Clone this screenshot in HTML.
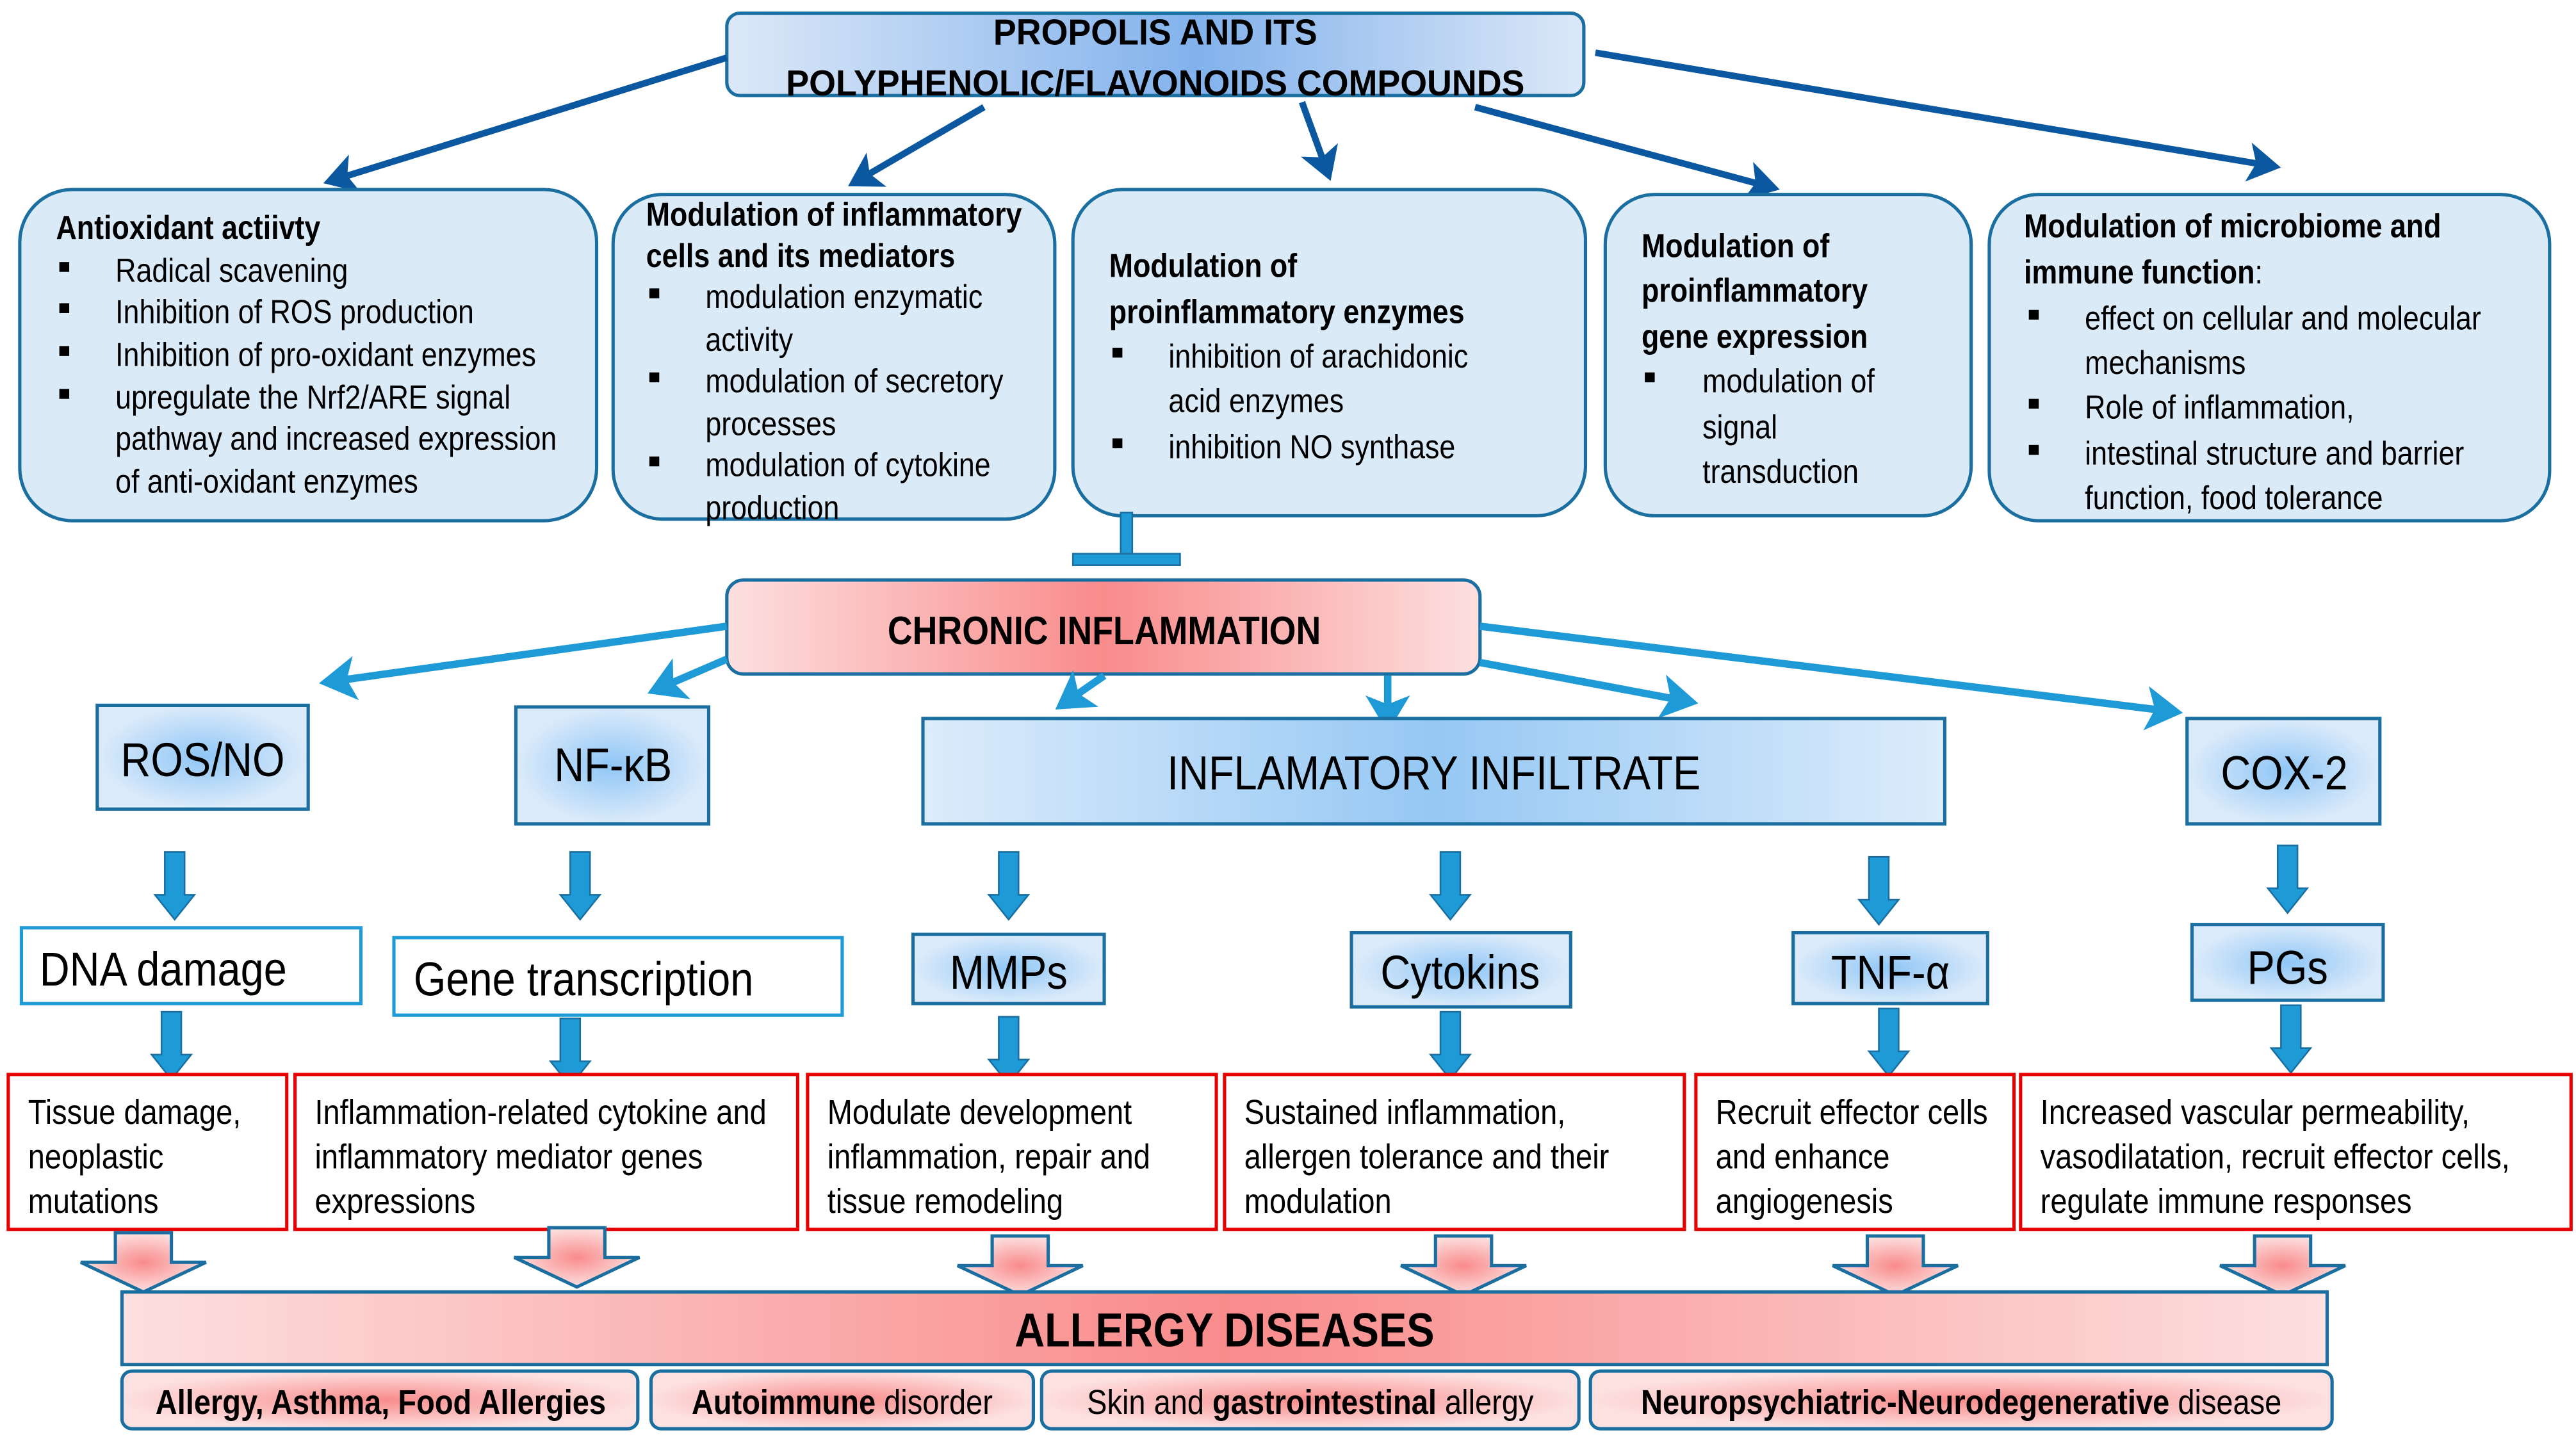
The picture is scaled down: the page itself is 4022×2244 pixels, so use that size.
<!DOCTYPE html>
<html><head><meta charset="utf-8"><style>
html,body{margin:0;padding:0;background:#fff}
svg{display:block}
text{font-family:"Liberation Sans Narrow","Liberation Sans",sans-serif;fill:#000;transform-box:fill-box;transform-origin:0 50%;transform:scaleX(.87)}
text.m{transform-origin:50% 50%}
text.t{transform:scaleX(.95)}
.b{font-weight:bold}
</style></head><body>
<svg width="4022" height="2244" viewBox="0 0 1563 872" preserveAspectRatio="none" xmlns="http://www.w3.org/2000/svg">
<defs>
<linearGradient id="gTop" x1="0" x2="1"><stop offset="0" stop-color="#dce8f8"/><stop offset="0.55" stop-color="#82b2ec"/><stop offset="1" stop-color="#dce8f8"/></linearGradient>
<linearGradient id="gRed" x1="0" x2="1"><stop offset="0" stop-color="#fde0e0"/><stop offset="0.5" stop-color="#f98b8b"/><stop offset="1" stop-color="#fde0e0"/></linearGradient>
<linearGradient id="gInf" x1="0" x2="1"><stop offset="0" stop-color="#dcecfb"/><stop offset="0.5" stop-color="#96c8f4"/><stop offset="1" stop-color="#dcecfb"/></linearGradient>
<radialGradient id="rBlue"><stop offset="0" stop-color="#8fc6f6"/><stop offset="1" stop-color="#dcebfa"/></radialGradient>
<radialGradient id="rPink"><stop offset="0" stop-color="#f98b8b"/><stop offset="1" stop-color="#fde0e0"/></radialGradient>
<marker id="mD" markerWidth="6" markerHeight="6" refX="4" refY="3" orient="auto" markerUnits="strokeWidth"><path d="M0,0 L5,3 L0,6 L1.2,3z" fill="#0b58a0"/></marker>
<marker id="mL" markerWidth="6" markerHeight="6" refX="4" refY="3" orient="auto" markerUnits="strokeWidth"><path d="M0,0 L5,3 L0,6 L1.2,3z" fill="#1e9ad6"/></marker>
<g id="ba"><path d="M-6,0 H6 V26 H12 L0,41 L-12,26 H-6 Z" fill="#1e9ad6" stroke="#1a6fa0" stroke-width="1"/></g>
<g id="pa"><path d="M-17,0 H17 V18 H38 L0,36 L-38,18 H-17 Z" fill="url(#rPink)" stroke="#1a6fa0" stroke-width="2"/></g>
</defs>

<rect x="441" y="8" width="520" height="50" rx="8" fill="url(#gTop)" stroke="#1a6fa0" stroke-width="2"/>
<text class="b m t" x="701" y="27" font-size="22" text-anchor="middle">PROPOLIS AND ITS</text>
<text class="b m t" x="701" y="58" font-size="22" text-anchor="middle">POLYPHENOLIC/FLAVONOIDS COMPOUNDS</text>

<g stroke="#0b58a0" stroke-width="4" fill="none" marker-end="url(#mD)">
<line x1="441" y1="35" x2="200" y2="110"/>
<line x1="597" y1="65" x2="518" y2="111"/>
<line x1="790" y1="62" x2="806" y2="106"/>
<line x1="895" y1="65" x2="1076" y2="114"/>
<line x1="968" y1="32" x2="1380" y2="101"/>
</g>

<g fill="#dbeaf7" stroke="#1a6fa0" stroke-width="2">
<rect x="12" y="115" width="350" height="201" rx="32"/>
<rect x="372" y="118" width="268" height="197" rx="30"/>
<rect x="651" y="115" width="311" height="198" rx="30"/>
<rect x="974" y="118" width="222" height="195" rx="30"/>
<rect x="1207" y="118" width="340" height="198" rx="30"/>
</g>
<g font-size="20">
<text class="b" x="34" y="145">Antioxidant actiivty</text>
<text x="70" y="171">Radical scavening</text>
<text x="70" y="196">Inhibition of ROS production</text>
<text x="70" y="222">Inhibition of pro-oxidant enzymes</text>
<text x="70" y="248">upregulate the Nrf2/ARE signal</text>
<text x="70" y="273">pathway and  increased expression</text>
<text x="70" y="299">of anti-oxidant enzymes</text>

<text class="b" x="392" y="137">Modulation of inflammatory</text>
<text class="b" x="392" y="162">cells and its mediators</text>
<text x="428" y="187">modulation enzymatic</text>
<text x="428" y="213">activity</text>
<text x="428" y="238">modulation of secretory</text>
<text x="428" y="264">processes</text>
<text x="428" y="289">modulation of cytokine</text>
<text x="428" y="315">production</text>

<text class="b" x="673" y="168">Modulation  of</text>
<text class="b" x="673" y="196">proinflammatory enzymes</text>
<text x="709" y="223">inhibition of arachidonic</text>
<text x="709" y="250">acid enzymes</text>
<text x="709" y="278">inhibition NO synthase</text>

<text class="b" x="996" y="156">Modulation of</text>
<text class="b" x="996" y="183">proinflammatory</text>
<text class="b" x="996" y="211">gene expression</text>
<text x="1033" y="238">modulation of</text>
<text x="1033" y="266">signal</text>
<text x="1033" y="293">transduction</text>

<text class="b" x="1228" y="144">Modulation of microbiome and</text>
<text x="1228" y="172"><tspan class="b">immune function</tspan>:</text>
<text x="1265" y="200">effect on cellular  and molecular</text>
<text x="1265" y="227">mechanisms</text>
<text x="1265" y="254">Role of inflammation,</text>
<text x="1265" y="282">intestinal structure and barrier</text>
<text x="1265" y="309">function, food tolerance</text>
</g>
<g fill="#000">
<rect x="36" y="159" width="6" height="6"/><rect x="36" y="184" width="6" height="6"/><rect x="36" y="210" width="6" height="6"/><rect x="36" y="236" width="6" height="6"/>
<rect x="394" y="175" width="6" height="6"/><rect x="394" y="226" width="6" height="6"/><rect x="394" y="277" width="6" height="6"/>
<rect x="675" y="211" width="6" height="6"/><rect x="675" y="266" width="6" height="6"/>
<rect x="998" y="226" width="6" height="6"/>
<rect x="1231" y="188" width="6" height="6"/><rect x="1231" y="242" width="6" height="6"/><rect x="1231" y="270" width="6" height="6"/>
</g>

<rect x="680" y="311" width="7" height="30" fill="#1e9ad6" stroke="#1a6fa0" stroke-width="1"/>
<rect x="651" y="336" width="65" height="7" fill="#1e9ad6" stroke="#1a6fa0" stroke-width="1"/>

<rect x="441" y="352" width="457" height="57" rx="10" fill="url(#gRed)" stroke="#1a6fa0" stroke-width="2"/>
<text class="b m" x="670" y="391" font-size="24" text-anchor="middle">CHRONIC INFLAMMATION</text>

<g stroke="#1e9ad6" stroke-width="4.5" fill="none" marker-end="url(#mL)">
<line x1="441" y1="380" x2="198" y2="414"/>
<line x1="441" y1="400" x2="397" y2="419"/>
<line x1="670" y1="410" x2="644" y2="428"/>
<line x1="842" y1="410" x2="842" y2="440"/>
<line x1="898" y1="402" x2="1026" y2="426"/>
<line x1="898" y1="380" x2="1320" y2="432"/>
</g>

<g stroke="#1a6fa0" stroke-width="2">
<rect x="59" y="428" width="128" height="63" fill="url(#rBlue)"/>
<rect x="313" y="429" width="117" height="71" fill="url(#rBlue)"/>
<rect x="560" y="436" width="620" height="64" fill="url(#gInf)"/>
<rect x="1327" y="436" width="117" height="64" fill="url(#rBlue)"/>
</g>
<g font-size="29" text-anchor="middle">
<text class="m" x="123" y="471">ROS/NO</text>
<text class="m" x="372" y="474">NF-κB</text>
<text class="m" x="870" y="479">INFLAMATORY INFILTRATE</text>
<text class="m" x="1386" y="479">COX-2</text>
</g>

<use href="#ba" x="106" y="517"/><use href="#ba" x="352" y="517"/><use href="#ba" x="612" y="517"/>
<use href="#ba" x="880" y="517"/><use href="#ba" x="1140" y="520"/><use href="#ba" x="1388" y="513"/>
<use href="#ba" x="104" y="614"/><use href="#ba" x="346" y="618"/><use href="#ba" x="612" y="617"/>
<use href="#ba" x="880" y="614"/><use href="#ba" x="1146" y="612"/><use href="#ba" x="1390" y="610"/>

<rect x="13" y="563" width="206" height="46" fill="#fff" stroke="#1e9ad6" stroke-width="2"/>
<rect x="239" y="569" width="272" height="47" fill="#fff" stroke="#1e9ad6" stroke-width="2"/>
<g stroke="#1a6fa0" stroke-width="2" fill="url(#rBlue)">
<rect x="554" y="567" width="116" height="42"/>
<rect x="820" y="566" width="133" height="45"/>
<rect x="1088" y="566" width="118" height="43"/>
<rect x="1330" y="561" width="116" height="46"/>
</g>
<g font-size="29">
<text x="24" y="598">DNA damage</text>
<text x="251" y="604">Gene transcription</text>
<text class="m" x="612" y="600" text-anchor="middle">MMPs</text>
<text class="m" x="886" y="600" text-anchor="middle">Cytokins</text>
<text class="m" x="1147" y="600" text-anchor="middle">TNF-α</text>
<text class="m" x="1388" y="597" text-anchor="middle">PGs</text>
</g>

<g fill="#fff" stroke="#e60000" stroke-width="2">
<rect x="5" y="652" width="169" height="94"/>
<rect x="179" y="652" width="305" height="94"/>
<rect x="490" y="652" width="248" height="94"/>
<rect x="743" y="652" width="279" height="94"/>
<rect x="1029" y="652" width="193" height="94"/>
<rect x="1226" y="652" width="334" height="94"/>
</g>
<g font-size="21">
<text x="17" y="682">Tissue damage,</text><text x="17" y="709">neoplastic</text><text x="17" y="736">mutations</text>
<text x="191" y="682">Inflammation-related  cytokine and</text><text x="191" y="709">inflammatory  mediator genes</text><text x="191" y="736">expressions</text>
<text x="502" y="682">Modulate development</text><text x="502" y="709">inflammation, repair and</text><text x="502" y="736">tissue remodeling</text>
<text x="755" y="682">Sustained inflammation,</text><text x="755" y="709">allergen tolerance and their</text><text x="755" y="736">modulation</text>
<text x="1041" y="682">Recruit effector cells</text><text x="1041" y="709">and enhance</text><text x="1041" y="736">angiogenesis</text>
<text x="1238" y="682">Increased vascular permeability,</text><text x="1238" y="709">vasodilatation, recruit effector cells,</text><text x="1238" y="736">regulate immune responses</text>
</g>

<use href="#pa" x="87" y="748"/><use href="#pa" x="350" y="745"/><use href="#pa" x="619" y="750"/>
<use href="#pa" x="888" y="750"/><use href="#pa" x="1150" y="750"/><use href="#pa" x="1385" y="750"/>

<rect x="74" y="784" width="1338" height="44" fill="url(#gRed)" stroke="#1a6fa0" stroke-width="2"/>
<text class="b m" x="743" y="817" font-size="29" text-anchor="middle">ALLERGY DISEASES</text>
<g fill="url(#rPink)" stroke="#1a6fa0" stroke-width="2">
<rect x="74" y="832" width="313" height="35" rx="6"/>
<rect x="395" y="832" width="232" height="35" rx="6"/>
<rect x="632" y="832" width="326" height="35" rx="6"/>
<rect x="965" y="832" width="450" height="35" rx="6"/>
</g>
<g font-size="21" text-anchor="middle">
<text class="b m" x="231" y="858">Allergy, Asthma, Food Allergies</text>
<text class="m" x="511" y="858"><tspan class="b">Autoimmune</tspan> disorder</text>
<text class="m" x="795" y="858">Skin and <tspan class="b">gastrointestinal</tspan> allergy</text>
<text class="m" x="1190" y="858"><tspan class="b">Neuropsychiatric-Neurodegenerative</tspan> disease</text>
</g>
</svg>
</body></html>
